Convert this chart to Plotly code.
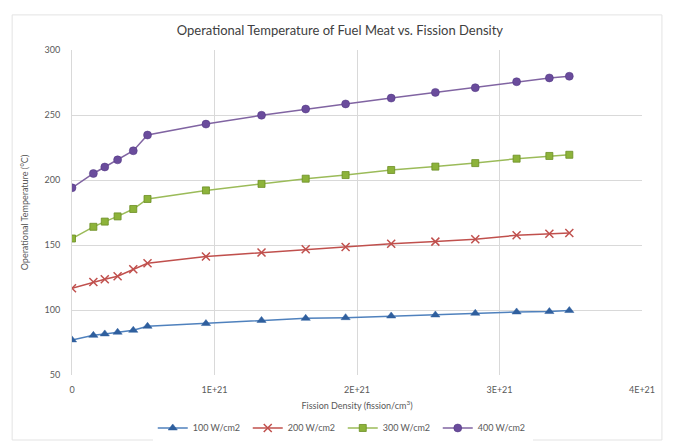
import plotly.graph_objects as go

fission_density = [0, 0.15e21, 0.23e21, 0.32e21, 0.43e21, 0.53e21, 0.94e21, 1.33e21,
                   1.64e21, 1.92e21, 2.24e21, 2.55e21, 2.83e21, 3.12e21, 3.35e21, 3.49e21]
temp_100 = [77, 80.5, 81.6, 82.9, 84.4, 87.5, 89.6, 92.0, 93.6, 94.1, 95.4, 96.2, 97.5, 98.5, 98.8, 99.6]
temp_200 = [116.7, 121.5, 123.6, 126.0, 131.3, 135.9, 141.1, 144.2, 146.7, 148.5, 151.0, 152.6, 154.4, 157.5, 158.6, 159.3]
temp_300 = [155, 164, 168, 172, 177.7, 185.4, 192.0, 197.0, 201.0, 203.8, 207.7, 210.3, 213.0, 216.4, 218.5, 219.4]
temp_400 = [194, 205, 210, 215.5, 222.5, 234.6, 243.0, 249.8, 254.6, 258.5, 263.0, 267.4, 271.0, 275.6, 278.5, 279.8]

series_names = ["100 W/cm2", "200 W/cm2", "300 W/cm2", "400 W/cm2"]
x_tick_vals = [0, 1e21, 2e21, 3e21, 4e21]
x_tick_text = ["0", "1E+21", "2E+21", "3E+21", "4E+21"]
y_tick_vals = [50, 100, 150, 200, 250, 300]

font_family = "Lato, Open Sans, sans-serif"
txt = "#595959"

styles = [
    dict(line_color="#4F81BD", marker=dict(symbol="triangle-up", size=8, color="#2F5F9E",
                                           line=dict(width=0.5, color="#2F5F9E"))),
    dict(line_color="#C0504D", marker=dict(symbol="x-thin", size=8, color="#C0504D",
                                           line=dict(width=1.5, color="#C0504D"))),
    dict(line_color="#9BBB59", marker=dict(symbol="square", size=7, color="#8DB33A",
                                           line=dict(width=0.8, color="#6B8E23"))),
    dict(line_color="#8064A2", marker=dict(symbol="circle", size=8, color="#6A4C9C",
                                           line=dict(width=0.5, color="#4F3580"))),
]

fig = go.Figure()
for name, ys, st in zip(series_names, [temp_100, temp_200, temp_300, temp_400], styles):
    fig.add_trace(go.Scatter(
        x=fission_density, y=ys, name=name, mode="lines+markers",
        line=dict(color=st["line_color"], width=1.5),
        marker=st["marker"],
    ))

fig.update_layout(
    width=676, height=444,
    margin=dict(l=64, r=42, t=42, b=77, autoexpand=False),
    paper_bgcolor="white", plot_bgcolor="white",
    font=dict(family=font_family, color=txt, size=9),
    title=dict(text="Operational Temperature of Fuel Meat vs. Fission Density",
               x=0.491, xanchor="center", y=0.95, yanchor="middle",
               font=dict(size=13, color="#404040", family=font_family)),
    showlegend=True,
    legend=dict(orientation="h", x=0.475, xanchor="center", y=-0.163, yanchor="middle",
                font=dict(size=9, color=txt), itemwidth=30, tracegroupgap=0,
                entrywidth=50, entrywidthmode="pixels"),
)
fig.update_xaxes(
    range=[0, 4e21], tickvals=x_tick_vals, ticktext=x_tick_text, automargin=False,
    showgrid=True, gridcolor="#D9D9D9", gridwidth=1, zeroline=False,
    showline=False, ticks="outside", ticklen=6, tickcolor="rgba(0,0,0,0)",
    tickfont=dict(size=9, color=txt),
    title=dict(text="Fission Density (fission/cm<sup>3</sup>)", font=dict(size=9, color=txt), standoff=8),
)
fig.update_yaxes(
    range=[50, 300], tickvals=y_tick_vals, automargin=False,
    showgrid=True, gridcolor="#D9D9D9", gridwidth=1, zeroline=False,
    showline=True, linecolor="#D9D9D9", ticks="outside", ticklen=9, tickcolor="rgba(0,0,0,0)",
    tickfont=dict(size=9, color=txt),
    title=dict(text="Operational Temperature (°C)", font=dict(size=9, color=txt), standoff=14),
)
fig.add_shape(type="rect", xref="paper", yref="paper", x0=-0.105, x1=1.035, y0=-0.2, y1=1.108,
              line=dict(color="#E3E3E3", width=1), layer="below")

fig.write_html("out.html")
